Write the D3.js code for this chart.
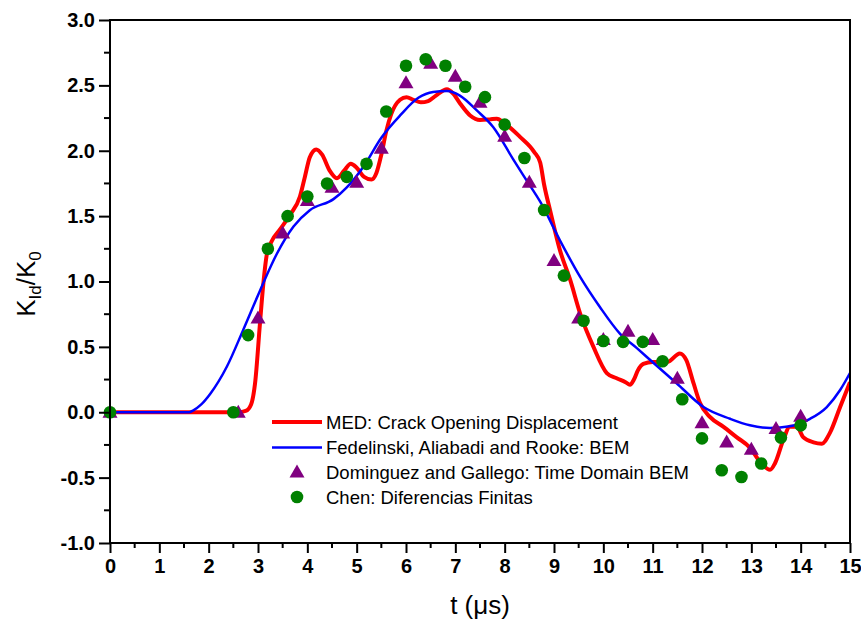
<!DOCTYPE html>
<html>
<head>
<meta charset="utf-8">
<script src="https://cdn.jsdelivr.net/npm/d3@7"></script>
<style>
  html, body { margin: 0; padding: 0; background: #fff; }
  svg { display: block; }
  .tick text { font-family: "Liberation Sans", Arial, sans-serif; font-weight: bold; font-size: 20px; fill: #000; }
</style>
</head>
<body>
<svg id="chart" width="861" height="623"></svg>
<script>
// ---- Data ----
// MED: Crack Opening Displacement (red line)
const medT = [0, 2.6, 2.75, 2.86, 2.94, 3.04, 3.11, 3.18, 3.28, 3.45, 3.65, 3.85, 3.95, 4.05, 4.18, 4.3, 4.45, 4.6, 4.75, 4.88, 5.0, 5.15, 5.3, 5.4, 5.5, 5.6, 5.7, 5.88, 6.01, 6.15, 6.3, 6.45, 6.6, 6.83, 6.95, 7.1, 7.3, 7.5, 7.7, 7.84, 8.0, 8.3, 8.6, 8.72, 8.8, 8.92, 9.12, 9.33, 9.53, 9.8, 10.07, 10.27, 10.45, 10.54, 10.62, 10.7, 10.81, 11.0, 11.3, 11.55, 11.68, 11.83, 11.96, 12.16, 12.43, 12.7, 12.97, 13.18, 13.38, 13.48, 13.65, 13.78, 13.92, 14.05, 14.26, 14.43, 14.59, 14.8, 15.0];
const medK = [0, 0, 0.01, 0.06, 0.22, 0.68, 0.99, 1.21, 1.31, 1.40, 1.51, 1.65, 1.80, 1.95, 2.01, 1.97, 1.85, 1.79, 1.85, 1.90, 1.87, 1.80, 1.78, 1.83, 1.97, 2.15, 2.28, 2.39, 2.41, 2.39, 2.37, 2.38, 2.42, 2.47, 2.44, 2.36, 2.27, 2.235, 2.24, 2.245, 2.21, 2.11, 1.99, 1.91, 1.74, 1.545, 1.24, 1.01, 0.755, 0.50, 0.30, 0.26, 0.23, 0.21, 0.25, 0.32, 0.37, 0.385, 0.385, 0.45, 0.40, 0.22, 0.07, -0.036, -0.11, -0.19, -0.27, -0.38, -0.44, -0.39, -0.21, -0.11, -0.11, -0.19, -0.23, -0.24, -0.16, 0.04, 0.23];

// Fedelinski, Aliabadi and Rooke: BEM (blue line)
const bemT = [0, 1.6, 1.69, 1.85, 2.03, 2.37, 2.70, 3.04, 3.38, 3.72, 4.05, 4.53, 4.80, 5.14, 5.5, 5.88, 6.25, 6.55, 6.83, 7.10, 7.43, 7.77, 8.18, 8.45, 8.72, 9.12, 9.53, 9.93, 10.34, 10.68, 10.95, 11.49, 12.03, 12.57, 12.97, 13.38, 13.78, 14.19, 14.53, 14.8, 15.0];
const bemK = [0, 0, 0.015, 0.06, 0.14, 0.35, 0.63, 0.93, 1.21, 1.42, 1.545, 1.63, 1.72, 1.88, 2.10, 2.27, 2.405, 2.45, 2.457, 2.42, 2.31, 2.18, 1.93, 1.77, 1.61, 1.315, 1.035, 0.805, 0.60, 0.49, 0.40, 0.22, 0.04, -0.05, -0.10, -0.12, -0.107, -0.05, 0.04, 0.17, 0.30];

// Dominguez and Gallego: Time Domain BEM (purple triangles)
const domT = [0, 2.6, 3.0, 3.5, 4.0, 4.5, 5.0, 5.5, 6.0, 6.5, 7.0, 7.5, 8.0, 8.5, 9.0, 9.5, 10.0, 10.5, 11.0, 11.5, 12.0, 12.5, 13.0, 13.5, 14.0];
const domK = [0, 0, 0.72, 1.37, 1.62, 1.72, 1.76, 2.02, 2.52, 2.67, 2.57, 2.37, 2.11, 1.76, 1.16, 0.72, 0.556, 0.62, 0.556, 0.26, -0.08, -0.227, -0.283, -0.125, -0.03];

// Chen: Diferencias Finitas (green circles)
const chenT = [0, 2.5, 2.8, 3.2, 3.6, 4.0, 4.4, 4.8, 5.2, 5.6, 6.0, 6.4, 6.8, 7.2, 7.6, 8.0, 8.4, 8.8, 9.2, 9.6, 10.0, 10.4, 10.8, 11.2, 11.6, 12.0, 12.4, 12.8, 13.2, 13.6, 14.0];
const chenK = [0, 0, 0.59, 1.25, 1.50, 1.65, 1.75, 1.80, 1.90, 2.30, 2.65, 2.70, 2.65, 2.49, 2.41, 2.20, 1.945, 1.547, 1.045, 0.70, 0.545, 0.538, 0.538, 0.39, 0.10, -0.20, -0.444, -0.495, -0.392, -0.194, -0.10];

const xTicks = [0,1,2,3,4,5,6,7,8,9,10,11,12,13,14,15];
const yTicks = [-1.0,-0.5,0.0,0.5,1.0,1.5,2.0,2.5,3.0];
const legendLabels = [
  "MED: Crack Opening Displacement",
  "Fedelinski, Aliabadi and Rooke: BEM",
  "Dominguez and Gallego: Time Domain BEM",
  "Chen: Diferencias Finitas"
];

// ---- Layout ----
const svg = d3.select("#chart");
const L = 110, T = 20, R = 850, B = 543;
const x = d3.scaleLinear().domain([0, 15]).range([L, R]);
const y = d3.scaleLinear().domain([-1, 3]).range([B, T]);

const font = '"Liberation Sans", Arial, sans-serif';

// Curves (clipped to plot)
svg.append("clipPath").attr("id", "clip")
  .append("rect").attr("x", L).attr("y", T).attr("width", R - L).attr("height", B - T);

const line = d3.line().x(d => x(d[0])).y(d => y(d[1])).curve(d3.curveMonotoneX);
const plot = svg.append("g").attr("clip-path", "url(#clip)");

plot.append("path")
  .datum(medT.map((t, i) => [t, medK[i]]))
  .attr("d", line).attr("fill", "none").attr("stroke", "#ff0000")
  .attr("stroke-width", 4).attr("stroke-linejoin", "round");

plot.append("path")
  .datum(bemT.map((t, i) => [t, bemK[i]]))
  .attr("d", line).attr("fill", "none").attr("stroke", "#0000ff")
  .attr("stroke-width", 2.5).attr("stroke-linejoin", "round");

const triPath = "M0,-7.5L7.5,5.5L-7.5,5.5Z";

svg.append("g").selectAll("path")
  .data(domT.map((t, i) => [t, domK[i]]))
  .join("path")
  .attr("d", triPath)
  .attr("transform", d => `translate(${x(d[0])},${y(d[1])})`)
  .attr("fill", "#800080");

svg.append("g").selectAll("circle")
  .data(chenT.map((t, i) => [t, chenK[i]]))
  .join("circle")
  .attr("cx", d => x(d[0])).attr("cy", d => y(d[1])).attr("r", 6.3)
  .attr("fill", "#008000");

// ---- Axes ----
const xMinor = d3.range(0, 15.01, 0.5).filter(v => Math.abs(v - Math.round(v)) > 1e-6);
const yMinor = d3.range(-1, 3.01, 0.25).filter(v => Math.abs(v * 2 - Math.round(v * 2)) > 1e-6);

const xAxis = svg.append("g").attr("transform", `translate(0,${B})`)
  .call(d3.axisBottom(x).tickValues(xTicks).tickFormat(d3.format("d")).tickSize(10).tickPadding(6));
const yAxis = svg.append("g").attr("transform", `translate(${L},0)`)
  .call(d3.axisLeft(y).tickValues(yTicks).tickFormat(d3.format(".1f")).tickSize(11).tickPadding(4));

[xAxis, yAxis].forEach(g => {
  g.select(".domain").remove();
  g.selectAll(".tick line").attr("stroke", "#000").attr("stroke-width", 2);
});
yAxis.selectAll(".tick text").text(d => d3.format(".1f")(d).replace("−", "-"));

svg.append("g").selectAll("line").data(xMinor).join("line")
  .attr("x1", d => x(d)).attr("x2", d => x(d)).attr("y1", B).attr("y2", B + 5)
  .attr("stroke", "#000").attr("stroke-width", 2);
svg.append("g").selectAll("line").data(yMinor).join("line")
  .attr("y1", d => y(d)).attr("y2", d => y(d)).attr("x1", L).attr("x2", L - 6)
  .attr("stroke", "#000").attr("stroke-width", 2);

// Frame
svg.append("rect").attr("x", L).attr("y", T).attr("width", R - L).attr("height", B - T)
  .attr("fill", "none").attr("stroke", "#000").attr("stroke-width", 2);

// ---- Titles ----
svg.append("text")
  .attr("x", 480).attr("y", 614)
  .attr("text-anchor", "middle")
  .attr("font-family", font).attr("font-size", 26)
  .text("t (μs)");

const yt = svg.append("text")
  .attr("transform", `translate(35,284) rotate(-90)`)
  .attr("text-anchor", "middle")
  .attr("font-family", font).attr("font-size", 26);
yt.append("tspan").text("K");
yt.append("tspan").attr("dy", 6).attr("font-size", 17).text("Id");
yt.append("tspan").attr("dy", -6).text("/K");
yt.append("tspan").attr("dy", 6).attr("font-size", 17).text("0");

// ---- Legend ----
const legY = [422, 447.5, 472, 497];
const leg = svg.append("g");
leg.append("line").attr("x1", 272).attr("x2", 322).attr("y1", legY[0]).attr("y2", legY[0])
  .attr("stroke", "#ff0000").attr("stroke-width", 4);
leg.append("line").attr("x1", 272).attr("x2", 322).attr("y1", legY[1]).attr("y2", legY[1])
  .attr("stroke", "#0000ff").attr("stroke-width", 2.5);
leg.append("path").attr("d", triPath).attr("transform", `translate(297,${legY[2]})`).attr("fill", "#800080");
leg.append("circle").attr("cx", 297).attr("cy", legY[3]).attr("r", 6.3).attr("fill", "#008000");
leg.selectAll("text").data(legendLabels).join("text")
  .attr("x", 326).attr("y", (d, i) => legY[i])
  .attr("dy", "0.36em")
  .attr("font-family", font).attr("font-size", 18.5)
  .text(d => d);
</script>
</body>
</html>
